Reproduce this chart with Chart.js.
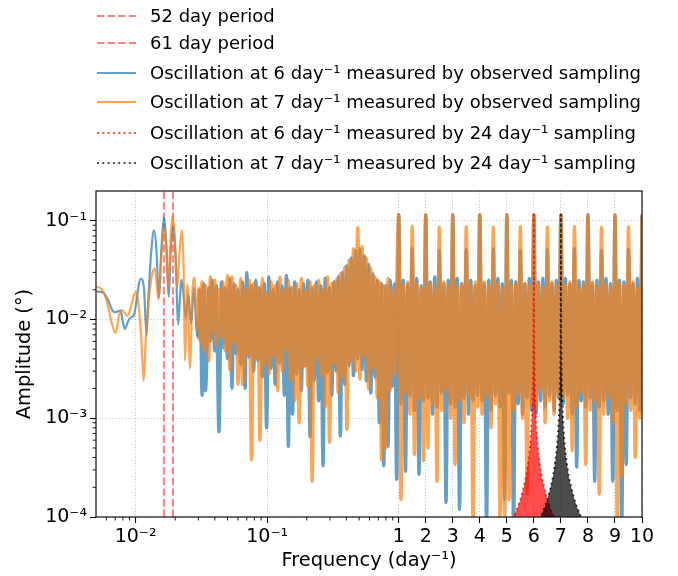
<!DOCTYPE html>
<html>
<head>
<meta charset="utf-8">
<script src="https://cdn.jsdelivr.net/npm/chart.js@4.4.1/dist/chart.umd.min.js"></script>
<style>
html,body{margin:0;padding:0;background:#fff}
canvas{display:block}
</style>
</head>
<body>
<canvas id="c" width="678" height="576"></canvas>
<script>
// ---------------- DATA ----------------
const periodDays = [52, 61];

const legendLabels = [
  '52 day period',
  '61 day period',
  'Oscillation at 6 day⁻¹ measured by observed sampling',
  'Oscillation at 7 day⁻¹ measured by observed sampling',
  'Oscillation at 6 day⁻¹ measured by 24 day⁻¹ sampling',
  'Oscillation at 7 day⁻¹ measured by 24 day⁻¹ sampling'
];

const xMajorTicks = [0.01, 0.1, 1, 2, 3, 4, 5, 6, 7, 8, 9, 10];
const xTickLabels = ['10⁻²', '10⁻¹', '1', '2', '3', '4', '5', '6', '7', '8', '9', '10'];
const xMinorTicks = [0.006, 0.007, 0.008, 0.009, 0.02, 0.03, 0.04, 0.05, 0.06, 0.07, 0.08, 0.09,
                     0.2, 0.3, 0.4, 0.5, 0.6, 0.7, 0.8, 0.9];
const yMajorTicks = [1e-4, 1e-3, 1e-2, 1e-1];
const yTickLabels = ['10⁻⁴', '10⁻³', '10⁻²', '10⁻¹'];
const yMinorTicks = [2e-4, 3e-4, 4e-4, 5e-4, 6e-4, 7e-4, 8e-4, 9e-4,
                     2e-3, 3e-3, 4e-3, 5e-3, 6e-3, 7e-3, 8e-3, 9e-3,
                     0.02, 0.03, 0.04, 0.05, 0.06, 0.07, 0.08, 0.09];
const xMin = 0.005, xMax = 10, yMin = 1e-4, yMax = 0.2;

// low-frequency part (smooth), per series
const blueFreqLow = [0.00505, 0.00564, 0.00615, 0.00661, 0.00697, 0.00733, 0.0077, 0.0080, 0.0083, 0.00874,
  0.0092, 0.0097, 0.0102, 0.0106, 0.0111, 0.0116, 0.0121, 0.0125, 0.0131, 0.0138,
  0.0144, 0.0150, 0.0157, 0.0164, 0.0171, 0.0179, 0.0185, 0.0193, 0.0201, 0.0211,
  0.0218, 0.0223, 0.0233, 0.0241, 0.0252, 0.0264, 0.0278, 0.0290];
const blueAmpLow = [0.0192, 0.0188, 0.0160, 0.0126, 0.0118, 0.0121, 0.0123, 0.0095, 0.0080, 0.0095,
  0.0105, 0.0110, 0.0160, 0.0232, 0.0260, 0.0201, 0.0070, 0.0160, 0.0456, 0.0797,
  0.0512, 0.0167, 0.0512, 0.108, 0.060, 0.0170, 0.0512, 0.0875, 0.0456, 0.0089,
  0.018, 0.0254, 0.0160, 0.0105, 0.0179, 0.0090, 0.021, 0.0080];
const orangeFreqLow = [0.00505, 0.00551, 0.00602, 0.00657, 0.00705, 0.00746, 0.0079, 0.00869, 0.00942, 0.0100,
  0.0106, 0.0111, 0.0115, 0.0119, 0.0125, 0.0132, 0.0140, 0.0149, 0.0157, 0.0164,
  0.0171, 0.0177, 0.0184, 0.0191, 0.0199, 0.0207, 0.0216, 0.0226, 0.0232, 0.0237,
  0.0248, 0.0259, 0.0271, 0.0282, 0.0292];
const orangeAmpLow = [0.0214, 0.0203, 0.0155, 0.0093, 0.0073, 0.0109, 0.0124, 0.0109, 0.0149, 0.0192,
  0.0132, 0.0056, 0.0024, 0.0056, 0.0143, 0.0266, 0.0331, 0.0161, 0.045, 0.085,
  0.055, 0.0211, 0.060, 0.112, 0.060, 0.0211, 0.050, 0.080, 0.030, 0.0038,
  0.0228, 0.0032, 0.020, 0.0266, 0.0080];

// mid-frequency part (dense), shared frequency grid
const freqMid = [0.030, 0.031, 0.032, 0.033, 0.034, 0.036, 0.037, 0.038, 0.040, 0.041,
  0.043, 0.045, 0.046, 0.048, 0.050, 0.052, 0.054, 0.056, 0.058, 0.060,
  0.063, 0.065, 0.068, 0.070, 0.073, 0.076, 0.079, 0.082, 0.085, 0.088,
  0.092, 0.095, 0.099, 0.103, 0.107, 0.111, 0.115, 0.120, 0.125, 0.130,
  0.135, 0.140, 0.145, 0.150, 0.156, 0.162, 0.168, 0.175, 0.182, 0.189,
  0.196, 0.204, 0.212, 0.220, 0.228, 0.237, 0.246, 0.256, 0.266, 0.276,
  0.287, 0.298, 0.310, 0.322, 0.334, 0.347, 0.360, 0.374, 0.389, 0.404,
  0.420, 0.436, 0.453, 0.470, 0.488, 0.507, 0.527, 0.547, 0.568, 0.590,
  0.613, 0.637, 0.661, 0.687, 0.713, 0.741, 0.770, 0.800, 0.830, 0.862,
  0.895, 0.930, 0.965];
const orangeAmpMid = [0.021, 0.0060, 0.024, 0.0050, 0.022, 0.0038, 0.027, 0.0075, 0.025, 0.0055,
  0.020, 0.0066, 0.024, 0.0048, 0.028, 0.0031, 0.027, 0.0058, 0.022, 0.0022,
  0.026, 0.0022, 0.020, 0.0045, 0.025, 0.00038, 0.023, 0.0040, 0.021, 0.0006,
  0.026, 0.0035, 0.019, 0.0028, 0.024, 0.0042, 0.022, 0.0019, 0.027, 0.0030,
  0.020, 0.0050, 0.025, 0.0024, 0.021, 0.0015, 0.023, 0.0009, 0.026, 0.0033,
  0.019, 0.0021, 0.024, 0.00023, 0.022, 0.0040, 0.025, 0.0027, 0.020, 0.0013,
  0.027, 0.00057, 0.023, 0.0036, 0.025, 0.0018, 0.029, 0.0026, 0.034, 0.00077,
  0.040, 0.0038, 0.052, 0.0030, 0.085, 0.0025, 0.055, 0.0042, 0.042, 0.0020,
  0.033, 0.0032, 0.027, 0.0016, 0.024, 0.00038, 0.022, 0.0005, 0.026, 0.0019,
  0.021, 0.0027, 0.024];
const blueAmpMid = [0.0065, 0.020, 0.0017, 0.023, 0.0019, 0.021, 0.0060, 0.025, 0.0048, 0.022,
  0.00073, 0.024, 0.0052, 0.021, 0.0040, 0.026, 0.0020, 0.023, 0.0045, 0.020,
  0.0035, 0.024, 0.0020, 0.030, 0.0042, 0.022, 0.0030, 0.025, 0.0038, 0.021,
  0.0026, 0.023, 0.00080, 0.027, 0.0032, 0.020, 0.0022, 0.024, 0.0036, 0.022,
  0.0017, 0.028, 0.00052, 0.021, 0.0011, 0.024, 0.0028, 0.020, 0.0019, 0.023,
  0.0034, 0.025, 0.00065, 0.021, 0.0024, 0.024, 0.0015, 0.022, 0.00033, 0.026,
  0.0029, 0.021, 0.0017, 0.024, 0.0030, 0.027, 0.00066, 0.030, 0.0022, 0.035,
  0.0034, 0.042, 0.0027, 0.050, 0.0040, 0.052, 0.0031, 0.044, 0.0024, 0.036,
  0.0018, 0.029, 0.0026, 0.025, 0.0009, 0.023, 0.00033, 0.022, 0.00052, 0.025,
  0.0021, 0.023, 0.00024];

// high-frequency part (1-10 day^-1), shared grid
const freqHigh = [
  1, 1.083, 1.167, 1.25, 1.333, 1.417, 1.5, 1.583, 1.667, 1.75, 1.833, 1.917,
  2, 2.083, 2.167, 2.25, 2.333, 2.417, 2.5, 2.583, 2.667, 2.75, 2.833, 2.917,
  3, 3.083, 3.167, 3.25, 3.333, 3.417, 3.5, 3.583, 3.667, 3.75, 3.833, 3.917,
  4, 4.083, 4.167, 4.25, 4.333, 4.417, 4.5, 4.583, 4.667, 4.75, 4.833, 4.917,
  5, 5.083, 5.167, 5.25, 5.333, 5.417, 5.5, 5.583, 5.667, 5.75, 5.833, 5.917,
  6, 6.083, 6.167, 6.25, 6.333, 6.417, 6.5, 6.583, 6.667, 6.75, 6.833, 6.917,
  7, 7.083, 7.167, 7.25, 7.333, 7.417, 7.5, 7.583, 7.667, 7.75, 7.833, 7.917,
  8, 8.083, 8.167, 8.25, 8.333, 8.417, 8.5, 8.583, 8.667, 8.75, 8.833, 8.917,
  9, 9.083, 9.167, 9.25, 9.333, 9.417, 9.5, 9.583, 9.667, 9.75, 9.833, 9.917,
  10];
const orangeAmpHigh = [
  0.115, 0.00015, 0.022, 0.0018, 0.024, 0.0011, 0.088, 0.00043, 0.023, 0.0016, 0.021, 0.00037,
  0.115, 0.0005, 0.023, 0.0014, 0.022, 0.00023, 0.086, 0.0012, 0.024, 0.0019, 0.022, 0.0010,
  0.115, 0.00034, 0.021, 0.0015, 0.023, 0.0009, 0.087, 0.0017, 0.022, 0.00008, 0.024, 0.0013,
  0.115, 0.0011, 0.024, 0.0016, 0.022, 0.0008, 0.086, 0.0014, 0.023, 0.00009, 0.021, 0.0001,
  0.115, 0.00015, 0.022, 0.0012, 0.024, 0.0017, 0.087, 0.0010, 0.023, 0.00017, 0.022, 0.0014,
  0.115, 0.0013, 0.023, 0.0019, 0.021, 0.0009, 0.086, 0.0015, 0.024, 0.0011, 0.022, 0.0017,
  0.115, 0.0016, 0.022, 0.0010, 0.024, 0.00047, 0.087, 0.0013, 0.021, 0.0018, 0.023, 0.00034,
  0.115, 0.0012, 0.024, 0.0015, 0.022, 0.00017, 0.086, 0.0011, 0.023, 0.0016, 0.021, 0.0009,
  0.115, 0.00008, 0.023, 0.00026, 0.022, 0.0014, 0.087, 0.0012, 0.024, 0.0004, 0.021, 0.0010,
  0.115];
const blueAmpHigh = [
  0.115, 0.0014, 0.025, 0.00029, 0.023, 0.0017, 0.052, 0.0012, 0.026, 0.00027, 0.022, 0.0015,
  0.115, 0.0016, 0.024, 0.0011, 0.027, 0.0013, 0.050, 0.0018, 0.023, 0.00014, 0.025, 0.0014,
  0.115, 0.0013, 0.026, 0.00012, 0.023, 0.0016, 0.051, 0.0011, 0.025, 0.0015, 0.022, 0.0017,
  0.115, 0.0015, 0.023, 0.00008, 0.025, 0.0012, 0.052, 0.0017, 0.026, 0.0013, 0.023, 0.00015,
  0.115, 0.0018, 0.025, 0.00008, 0.024, 0.0014, 0.050, 0.0011, 0.023, 0.0016, 0.026, 0.0012,
  0.115, 0.0011, 0.024, 0.0015, 0.026, 0.0013, 0.051, 0.0017, 0.023, 0.0012, 0.025, 0.0016,
  0.115, 0.0014, 0.026, 0.0017, 0.023, 0.0011, 0.052, 0.00032, 0.025, 0.0015, 0.024, 0.0013,
  0.115, 0.0016, 0.023, 0.00023, 0.025, 0.0013, 0.050, 0.0015, 0.026, 0.0011, 0.023, 0.00023,
  0.115, 0.0012, 0.025, 0.00008, 0.024, 0.00034, 0.051, 0.0016, 0.023, 0.0014, 0.026, 0.0012,
  0.115];

// 24 day^-1 sampling: envelope of the peak at 6 and at 7 day^-1
const redFreq = [5.2, 5.3, 5.4, 5.5, 5.6, 5.7, 5.8, 5.86, 5.9, 5.93, 5.96, 5.98, 5.99, 5.996, 6.0,
  6.004, 6.01, 6.02, 6.04, 6.07, 6.1, 6.14, 6.2, 6.3, 6.4, 6.5, 6.6, 6.7, 6.8];
const redAmp = [0.000094, 0.000107, 0.000125, 0.00015, 0.00019, 0.00025, 0.000375, 0.00054, 0.00075, 0.00107,
  0.0019, 0.00375, 0.0075, 0.019, 0.115, 0.019, 0.0075, 0.00375, 0.0019, 0.00107,
  0.00075, 0.00054, 0.000375, 0.00025, 0.00019, 0.00015, 0.000125, 0.000107, 0.000094];
const blackFreq = [6.2, 6.3, 6.4, 6.5, 6.6, 6.7, 6.8, 6.86, 6.9, 6.93, 6.96, 6.98, 6.99, 6.996, 7.0,
  7.004, 7.01, 7.02, 7.04, 7.07, 7.1, 7.14, 7.2, 7.3, 7.4, 7.5, 7.6, 7.7, 7.8];
const blackAmp = [0.000094, 0.000107, 0.000125, 0.00015, 0.00019, 0.00025, 0.000375, 0.00054, 0.00075, 0.00107,
  0.0019, 0.00375, 0.0075, 0.019, 0.115, 0.019, 0.0075, 0.00375, 0.0019, 0.00107,
  0.00075, 0.00054, 0.000375, 0.00025, 0.00019, 0.00015, 0.000125, 0.000107, 0.000094];

// ---------------- STYLE ----------------
const FONT = 'DejaVu Sans';
const C_VLINE = 'rgba(255,0,0,0.5)';
const C_BLUE = 'rgba(31,119,180,0.7)';
const C_ORANGE = 'rgba(255,127,14,0.7)';
const C_RED = 'rgba(255,0,0,0.7)';
const C_BLACK = 'rgba(0,0,0,0.7)';
const DASH = [7.4, 3.2];
const DOT = [2, 3.3];
const DENSE_FROM = 0.03;        // where the periodogram becomes too dense to resolve
const W_SMOOTH = 2.2, W_DENSE = 3.4;

// ---------------- CUSTOM X SCALE (log below 1, linear above 1) ----------------
function fwd(v, k) { return v < 1 ? Math.log10(v) : (v - 1) * k; }
function inv(u, k) { return u < 0 ? Math.pow(10, u) : 1 + u / k; }

class LogLinScale extends Chart.Scale {
  determineDataLimits() {
    this.min = this.options.min;
    this.max = this.options.max;
  }
  buildTicks() {
    return (this.options.tickValues || []).map(v => ({ value: v }));
  }
  getLabelForValue(v) { return String(v); }
  configure() {
    super.configure();
    const k = this.options.unitDecades;
    this._u0 = fwd(this.min, k);
    this._u1 = fwd(this.max, k);
  }
  getPixelForValue(v) {
    const k = this.options.unitDecades;
    return this.getPixelForDecimal((fwd(v, k) - this._u0) / (this._u1 - this._u0));
  }
  getValueForPixel(p) {
    const k = this.options.unitDecades;
    return inv(this._u0 + this.getDecimalForPixel(p) * (this._u1 - this._u0), k);
  }
  getPixelForTick(i) {
    const t = this.ticks;
    if (i < 0 || i > t.length - 1) return null;
    return this.getPixelForValue(t[i].value);
  }
}
LogLinScale.id = 'loglin';
LogLinScale.defaults = {};
Chart.register(LogLinScale);

// ---------------- BUILD SERIES ----------------
function pts(xs, ys) { return xs.map((x, i) => ({ x: x, y: ys[i] })); }
const blueData = pts(blueFreqLow.concat(freqMid, freqHigh), blueAmpLow.concat(blueAmpMid, blueAmpHigh));
const orangeData = pts(orangeFreqLow.concat(freqMid, freqHigh), orangeAmpLow.concat(orangeAmpMid, orangeAmpHigh));

const denseWidth = ctx => (ctx.p0.parsed.x >= DENSE_FROM ? W_DENSE : W_SMOOTH);

const vlineSets = periodDays.map((p, i) => ({
  label: legendLabels[i],
  data: [{ x: 1 / p, y: yMin }, { x: 1 / p, y: yMax }],
  borderColor: C_VLINE, borderWidth: 2, borderDash: DASH,
  pointRadius: 0, fill: false, order: 5
}));

const datasets = vlineSets.concat([
  { label: legendLabels[2], data: blueData, borderColor: C_BLUE, borderWidth: W_SMOOTH,
    segment: { borderWidth: denseWidth },
    pointRadius: 0, fill: false, cubicInterpolationMode: 'monotone', order: 4 },
  { label: legendLabels[3], data: orangeData, borderColor: C_ORANGE, borderWidth: W_SMOOTH,
    segment: { borderWidth: denseWidth },
    pointRadius: 0, fill: false, cubicInterpolationMode: 'monotone', order: 3 },
  { label: legendLabels[4], data: pts(redFreq, redAmp), borderColor: C_RED, borderWidth: 2,
    borderDash: DOT, backgroundColor: C_RED, pointRadius: 0, fill: 'start', tension: 0, order: 2 },
  { label: legendLabels[5], data: pts(blackFreq, blackAmp), borderColor: C_BLACK, borderWidth: 2,
    borderDash: DOT, backgroundColor: C_BLACK, pointRadius: 0, fill: 'start', tension: 0, order: 1 }
]);

const legendStyles = [
  { color: C_VLINE, dash: DASH },
  { color: C_VLINE, dash: DASH },
  { color: C_BLUE, dash: [] },
  { color: C_ORANGE, dash: [] },
  { color: C_RED, dash: DOT },
  { color: C_BLACK, dash: DOT }
];
const legendRowY = [16, 43, 73, 102, 133, 163];

const decor = {
  id: 'decor',
  beforeDraw(chart) {
    const c = chart.ctx;
    c.save(); c.fillStyle = '#fff'; c.fillRect(0, 0, chart.width, chart.height); c.restore();
  },
  afterDraw(chart) {
    const c = chart.ctx, a = chart.chartArea, xs = chart.scales.x, ys = chart.scales.y;
    c.save();
    c.strokeStyle = '#000'; c.lineWidth = 0.9; c.setLineDash([]);
    c.beginPath();
    xMinorTicks.forEach(v => { const p = xs.getPixelForValue(v); c.moveTo(p, a.bottom); c.lineTo(p, a.bottom + 3.5); });
    yMinorTicks.forEach(v => { const p = ys.getPixelForValue(v); c.moveTo(a.left, p); c.lineTo(a.left - 3.5, p); });
    c.stroke();
    c.lineWidth = 1.2; c.strokeStyle = '#111';
    c.strokeRect(a.left, a.top, a.right - a.left, a.bottom - a.top);
    c.font = '18px "' + FONT + '"';
    c.textBaseline = 'middle';
    c.textAlign = 'left';
    legendLabels.forEach((txt, i) => {
      const y = legendRowY[i];
      const st = legendStyles[i];
      c.strokeStyle = st.color; c.lineWidth = 2; c.setLineDash(st.dash);
      c.beginPath(); c.moveTo(a.left + 1, y); c.lineTo(a.left + 40, y); c.stroke();
      c.setLineDash([]);
      c.fillStyle = '#000';
      c.fillText(txt, a.left + 54, y + 1);
    });
    c.restore();
  }
};

Chart.defaults.font.family = FONT;
Chart.defaults.color = '#000';

new Chart(document.getElementById('c'), {
  type: 'line',
  data: { datasets: datasets },
  options: {
    responsive: false,
    animation: false,
    devicePixelRatio: 1,
    layout: { padding: { top: 191, right: 36, bottom: 0, left: 0 } },
    plugins: { legend: { display: false }, tooltip: { enabled: false } },
    elements: { line: { borderCapStyle: 'butt', borderJoinStyle: 'round' } },
    scales: {
      x: {
        type: 'loglin',
        min: xMin, max: xMax,
        unitDecades: 0.2055,
        tickValues: xMajorTicks,
        afterFit: s => { s.height = 59; },
        border: { display: false, dash: [1, 2.2] },
        grid: { color: '#b0b0b0', lineWidth: 0.8, tickLength: 6, tickColor: '#000', tickWidth: 1.1 },
        ticks: { autoSkip: false, maxRotation: 0, minRotation: 0, padding: 3,
                 font: { size: 19 }, callback: (v, i) => xTickLabels[i] },
        title: { display: true, text: 'Frequency (day⁻¹)', font: { size: 19.4 }, padding: { top: 0, bottom: 3 } }
      },
      y: {
        type: 'logarithmic',
        min: yMin, max: yMax,
        afterFit: s => { s.width = 96; },
        afterBuildTicks: s => { s.ticks = yMajorTicks.map(v => ({ value: v })); },
        border: { display: false, dash: [1, 2.2] },
        grid: { color: '#b0b0b0', lineWidth: 0.8, tickLength: 6, tickColor: '#000', tickWidth: 1.1 },
        ticks: { autoSkip: false, padding: 3, font: { size: 19 }, callback: (v, i) => yTickLabels[i] },
        title: { display: true, text: 'Amplitude (°)', font: { size: 19.4 }, padding: { top: 13, bottom: 0 } }
      }
    }
  },
  plugins: [decor]
});
</script>
</body>
</html>
